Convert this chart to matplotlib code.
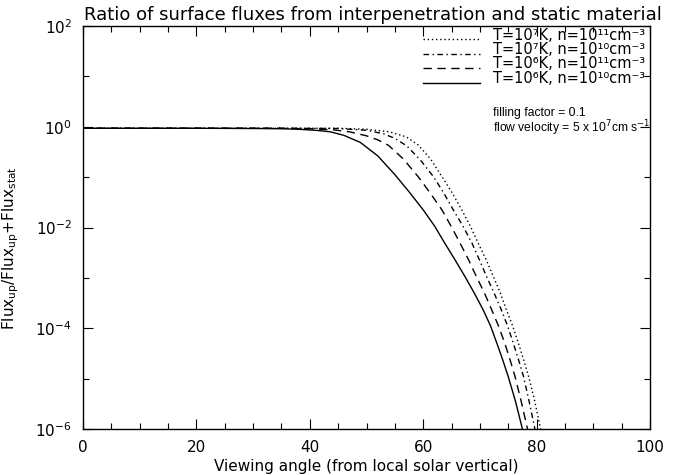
import matplotlib
matplotlib.use('Agg')
import matplotlib.pyplot as plt
import numpy as np
from matplotlib.ticker import MultipleLocator, FixedLocator, NullFormatter

# values: viewing angle (deg) and log10 of the flux ratio
ang_t7_n11 = [0, 20, 35, 45, 50, 54, 57, 59.1, 61.3, 63.3, 65.1, 66.8, 68.3, 69.7, 71.1,
              72.4, 73.6, 74.7, 75.8, 76.8, 77.7, 78.6, 79.7, 80.7]
lg_t7_n11 = [-0.03, -0.03, -0.03, -0.03, -0.05, -0.1, -0.2, -0.36, -0.64, -0.99, -1.31,
             -1.65, -1.97, -2.31, -2.64, -2.98, -3.3, -3.64, -3.96, -4.3, -4.62, -4.96,
             -5.46, -6.0]

ang_t7_n10 = [0, 20, 35, 45, 50, 53, 55, 57.1, 59.5, 61.8, 63.6, 65.3, 67.0, 68.6, 69.9,
              71.2, 72.5, 73.8, 74.9, 75.9, 76.8, 77.7, 78.7, 79.7]
lg_t7_n10 = [-0.03, -0.03, -0.03, -0.035, -0.07, -0.14, -0.23, -0.38, -0.66, -0.99, -1.31,
             -1.65, -1.97, -2.31, -2.64, -2.98, -3.3, -3.64, -3.96, -4.3, -4.62, -4.96,
             -5.46, -6.0]

ang_t6_n11 = [0, 20, 35, 40, 44, 47, 50, 52, 53.9, 56.5, 59.1, 61.2, 63.3, 64.9, 66.5, 68.0,
              69.4, 70.8, 72.1, 73.3, 74.4, 75.3, 76.2, 77.3, 78.4]
lg_t6_n11 = [-0.03, -0.03, -0.03, -0.04, -0.06, -0.1, -0.18, -0.26, -0.37, -0.64, -0.99,
             -1.31, -1.65, -1.97, -2.31, -2.64, -2.98, -3.3, -3.64, -3.96, -4.3, -4.62,
             -4.96, -5.46, -6.0]

ang_t6_n10 = [0, 20, 30, 35, 38, 41, 43.6, 46, 48.9, 52.0, 55.0, 57.5, 60.0, 62.0, 63.8,
              65.6, 67.4, 69.0, 70.6, 71.9, 73.0, 74.0, 75.0, 76.3, 77.5]
lg_t6_n10 = [-0.03, -0.03, -0.035, -0.04, -0.05, -0.07, -0.1, -0.17, -0.31, -0.58,
             -0.95, -1.29, -1.65, -1.97, -2.31, -2.64, -2.98, -3.3, -3.64, -3.96, -4.3,
             -4.62, -4.96, -5.46, -6.0]

labels = ['T=10⁷K, n=10¹¹cm⁻³',
          'T=10⁷K, n=10¹⁰cm⁻³',
          'T=10⁶K, n=10¹¹cm⁻³',
          'T=10⁶K, n=10¹⁰cm⁻³']
styles = [(0, (1, 2)), (0, (4, 2.5, 1, 2.5)), (0, (6, 4)), '-']

plt.rcParams['font.family'] = ['DejaVu Sans']
plt.rcParams['mathtext.fontset'] = 'dejavusans'

fig = plt.figure(figsize=(6.74, 4.75), dpi=100)
ax = fig.add_axes([83 / 674, 1 - 429 / 475, 567 / 674, 403 / 475])

series = [(ang_t7_n11, lg_t7_n11), (ang_t7_n10, lg_t7_n10),
          (ang_t6_n11, lg_t6_n11), (ang_t6_n10, lg_t6_n10)]
for (a, lg), ls in zip(series, styles):
    ax.plot(a, 10 ** np.array(lg), color='black', lw=1.0, linestyle=ls)

ax.set_yscale('log')
ax.set_xlim(0, 100)
ax.set_ylim(1e-6, 1e2)

ax.xaxis.set_major_locator(MultipleLocator(20))
ax.xaxis.set_minor_locator(MultipleLocator(5))
ax.yaxis.set_major_locator(FixedLocator([1e-6, 1e-4, 1e-2, 1e0, 1e2]))
ax.yaxis.set_minor_locator(FixedLocator([1e-5, 1e-3, 1e-1, 1e1]))
ax.yaxis.set_minor_formatter(NullFormatter())
ax.tick_params(which='both', direction='in', top=True, right=True, labelsize=11, width=0.8)
ax.tick_params(which='major', length=7, pad=8)
ax.tick_params(which='minor', length=4)
for s in ax.spines.values():
    s.set_linewidth(1.0)

ax.set_title('Ratio of surface fluxes from interpenetration and static material',
             fontsize=13, pad=4, x=0.512)
ax.set_xlabel('Viewing angle (from local solar vertical)', fontsize=11, labelpad=3)
ax.set_ylabel(r'Flux$_{\mathrm{up}}$/Flux$_{\mathrm{up}}$+Flux$_{\mathrm{stat}}$', fontsize=11)
ax.yaxis.set_label_coords(-0.11, 0.45)

# legend drawn by hand to keep the tight row spacing of the original
for i, (lab, ls) in enumerate(zip(labels, styles)):
    yc = (429 - (35 + 14.5 * i)) / 403
    ax.plot([0.600, 0.700], [yc - 0.011, yc - 0.011], transform=ax.transAxes,
            color='black', lw=1.0, linestyle=ls)
    ax.text(0.723, yc, lab, transform=ax.transAxes, fontsize=10.5, va='center')

ax.text(0.723, (429 - 113) / 403, 'filling factor = 0.1', transform=ax.transAxes,
        fontsize=8.7, va='center', family='Liberation Sans')
ax.text(0.723, (429 - 128) / 403, r'flow velocity = 5 x 10$^7$cm s$^{-1}$',
        transform=ax.transAxes, fontsize=8.7, va='center', family='Liberation Sans')

fig.savefig('out.png', dpi=100)
